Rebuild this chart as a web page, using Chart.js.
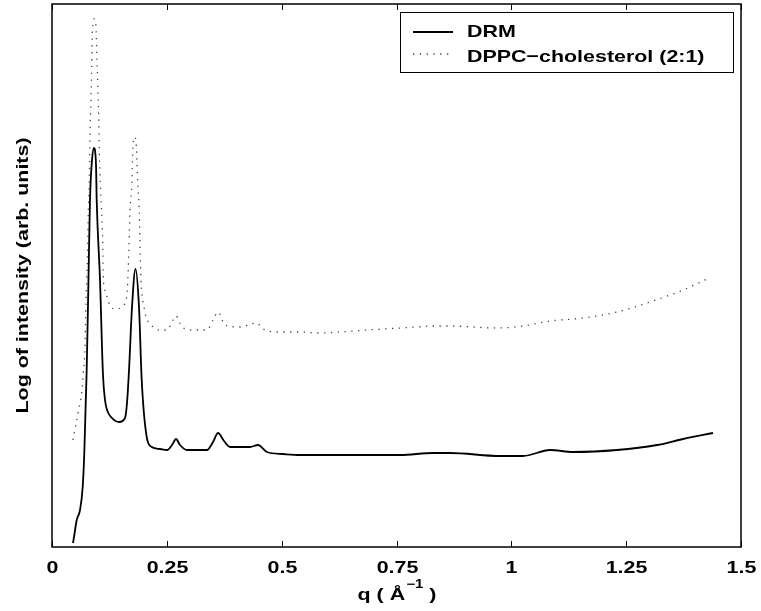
<!DOCTYPE html>
<html>
<head>
<meta charset="utf-8">
<script src="https://cdn.jsdelivr.net/npm/chart.js@4"></script>
<style>
  html, body { margin: 0; padding: 0; background: #fff; }
  #wrap { width: 761px; height: 611px; }
</style>
</head>
<body>
<div id="wrap"><canvas id="saxsChart" width="761" height="611"></canvas></div>
<script>
// Values (q in 1/Angstrom, intensity in arbitrary log units)
const drmQ = [0.0457, 0.0479, 0.0538, 0.0610, 0.0668, 0.0703, 0.0734, 0.0755, 0.0790, 0.0827, 0.0871, 0.0914,
    0.0958, 0.0973, 0.1045, 0.1110, 0.1154, 0.1198, 0.1306, 0.1459, 0.1589, 0.1633, 0.1677, 0.1742, 0.1818,
    0.1894, 0.1953, 0.2062, 0.2171, 0.2351, 0.2504, 0.2613, 0.2700, 0.2787, 0.2939, 0.3375, 0.3505, 0.3614,
    0.3745, 0.3875, 0.4311, 0.4485, 0.4681, 0.5029, 0.5400, 0.6488, 0.7577, 0.8295, 0.8665, 0.9754, 1.0255,
    1.0843, 1.1343, 1.2301, 1.3172, 1.3738, 1.4391];
const drmIntensity = [4, 10, 27, 37, 60, 94, 144, 177, 257, 347, 387, 399,
    382, 347, 267, 172, 147, 137, 129, 125, 129, 144, 177, 240, 278,
    240, 167, 110, 100, 98, 97, 102, 108, 102, 97, 97, 105, 114,
    106, 100, 100, 102, 95, 93, 92, 92, 92, 94, 94, 91, 91,
    97, 95, 97, 102, 108, 114];

const dppcQ = [0.0457, 0.0566, 0.0653, 0.0681, 0.0718, 0.0734, 0.0755, 0.0777, 0.0790, 0.0812, 0.0827, 0.0849,
    0.0864, 0.0877, 0.0921, 0.0958, 0.0973, 0.0995, 0.1017, 0.1030, 0.1052, 0.1104, 0.1117, 0.1147, 0.1191,
    0.1278, 0.1393, 0.1518, 0.1605, 0.1640, 0.1676, 0.1698, 0.1735, 0.1748, 0.1770, 0.1807, 0.1844, 0.1866,
    0.1901, 0.1916, 0.1938, 0.1966, 0.2003, 0.2047, 0.2118, 0.2206, 0.2330, 0.2504, 0.2634, 0.2700, 0.2830,
    0.3070, 0.3375, 0.3505, 0.3614, 0.3767, 0.4093, 0.4463, 0.4594, 0.4964, 0.5400, 0.5770, 0.6858, 0.7947,
    0.8295, 0.8665, 0.9689, 1.0255, 1.0843, 1.1561, 1.2301, 1.3018, 1.3738, 1.4261];
const dppcIntensity = [107, 134, 157, 174, 200, 234, 267, 300, 334, 367, 414, 447,
    480, 514, 528, 520, 497, 464, 430, 397, 364, 304, 271, 258, 251,
    240, 238, 240, 246, 257, 301, 337, 360, 380, 404, 410, 394, 364,
    334, 300, 267, 250, 240, 230, 224, 220, 217, 217, 227, 231, 220,
    217, 217, 227, 235, 222, 220, 224, 218, 215, 215, 214, 217, 220,
    221, 221, 219, 221, 226, 229, 235, 245, 257, 268];

const xTicks = [0, 0.25, 0.5, 0.75, 1, 1.25, 1.5];
const seriesNames = ['DRM', 'DPPC\u2212cholesterol (2:1)'];

const FAMILY = '"Liberation Sans", Arial, sans-serif';
const STRETCH = 1.26; // the old figure's lettering is wide for its height

function toPoints(xs, ys) {
    return xs.map((x, i) => ({ x: x, y: ys[i] }));
}

// draw text stretched horizontally, anchored at x according to align
function wideText(ctx, text, x, y, align, size) {
    ctx.save();
    ctx.font = 'bold ' + size + 'px ' + FAMILY;
    const w = ctx.measureText(text).width * STRETCH;
    let left = x;
    if (align === 'center') left = x - w / 2;
    if (align === 'right') left = x - w;
    ctx.translate(left, y);
    ctx.scale(STRETCH, 1);
    ctx.textAlign = 'left';
    ctx.textBaseline = 'alphabetic';
    ctx.fillText(text, 0, 0);
    ctx.restore();
    return w;
}

function textWidth(ctx, text, size) {
    ctx.save();
    ctx.font = 'bold ' + size + 'px ' + FAMILY;
    const w = ctx.measureText(text).width * STRETCH;
    ctx.restore();
    return w;
}

// Box, inward ticks, labels, axis titles and legend, MATLAB style
const matlabFrame = {
    id: 'matlabFrame',
    afterDraw(chart) {
        const ctx = chart.ctx;
        const area = chart.chartArea;
        const xScale = chart.scales.x;
        ctx.save();
        ctx.strokeStyle = '#000';
        ctx.lineWidth = 1.5;
        ctx.strokeRect(area.left, area.top, area.right - area.left, area.bottom - area.top);

        // inward ticks top and bottom, labels underneath
        ctx.lineWidth = 1;
        ctx.fillStyle = '#000';
        xScale.ticks.forEach(t => {
            const px = Math.round(xScale.getPixelForValue(t.value)) + 0.5;
            ctx.beginPath();
            ctx.moveTo(px, area.bottom);
            ctx.lineTo(px, area.bottom - 6);
            ctx.moveTo(px, area.top);
            ctx.lineTo(px, area.top + 6);
            ctx.stroke();
            wideText(ctx, String(t.value), px, area.bottom + 26, 'center', 17);
        });

        // x title with superscript
        const partA = 'q ( \u00C5', sup = '\u22121', partB = ' )';
        const wA = textWidth(ctx, partA, 17), wS = textWidth(ctx, sup, 12), wB = textWidth(ctx, partB, 17);
        let x0 = (area.left + area.right) / 2 - (wA + wS + wB) / 2;
        wideText(ctx, partA, x0, 600, 'left', 17);
        wideText(ctx, sup, x0 + wA + 1, 588, 'left', 12);
        wideText(ctx, partB, x0 + wA + wS + 1, 600, 'left', 17);

        // y title
        ctx.save();
        ctx.translate(28, (area.top + area.bottom) / 2);
        ctx.rotate(-Math.PI / 2);
        wideText(ctx, 'Log of intensity (arb. units)', 0, 0, 'center', 17);
        ctx.restore();

        // legend
        const box = { left: 400, top: 12, right: 733, bottom: 72 };
        ctx.fillStyle = '#fff';
        ctx.fillRect(box.left, box.top, box.right - box.left, box.bottom - box.top);
        ctx.lineWidth = 1;
        ctx.strokeStyle = '#000';
        ctx.strokeRect(box.left + 0.5, box.top + 0.5, box.right - box.left, box.bottom - box.top);
        const sampleRows = [32, 54];
        const textRows = [37, 62];
        chart.data.datasets.forEach((ds, i) => {
            ctx.beginPath();
            ctx.strokeStyle = ds.borderColor;
            ctx.lineWidth = ds.borderWidth;
            ctx.setLineDash(ds.borderDash || []);
            ctx.moveTo(413, sampleRows[i]);
            ctx.lineTo(453, sampleRows[i]);
            ctx.stroke();
            ctx.setLineDash([]);
            ctx.fillStyle = '#000';
            wideText(ctx, ds.label, 467, textRows[i], 'left', 17);
        });
        ctx.restore();
    }
};

new Chart(document.getElementById('saxsChart').getContext('2d'), {
    type: 'line',
    data: {
        datasets: [{
            label: seriesNames[0],
            data: toPoints(drmQ, drmIntensity),
            borderColor: '#000',
            borderWidth: 1.8,
            pointRadius: 0,
            cubicInterpolationMode: 'monotone',
            fill: false
        }, {
            label: seriesNames[1],
            data: toPoints(dppcQ, dppcIntensity),
            borderColor: '#444',
            borderWidth: 1.3,
            borderDash: [1.3, 5.5],
            pointRadius: 0,
            cubicInterpolationMode: 'monotone',
            fill: false
        }]
    },
    options: {
        responsive: false,
        animation: false,
        layout: { padding: { top: 4, right: 20, left: 0, bottom: 0 } },
        plugins: { legend: { display: false }, tooltip: { enabled: false } },
        scales: {
            x: {
                type: 'linear',
                min: 0,
                max: 1.5,
                afterBuildTicks: axis => { axis.ticks = xTicks.map(v => ({ value: v })); },
                afterFit: axis => { axis.height = 64; },
                grid: { display: false },
                border: { display: false },
                ticks: { display: false }
            },
            y: {
                min: 0,
                max: 543,
                afterFit: axis => { axis.width = 52; },
                grid: { display: false },
                border: { display: false },
                ticks: { display: false }
            }
        }
    },
    plugins: [matlabFrame]
});
</script>
</body>
</html>
